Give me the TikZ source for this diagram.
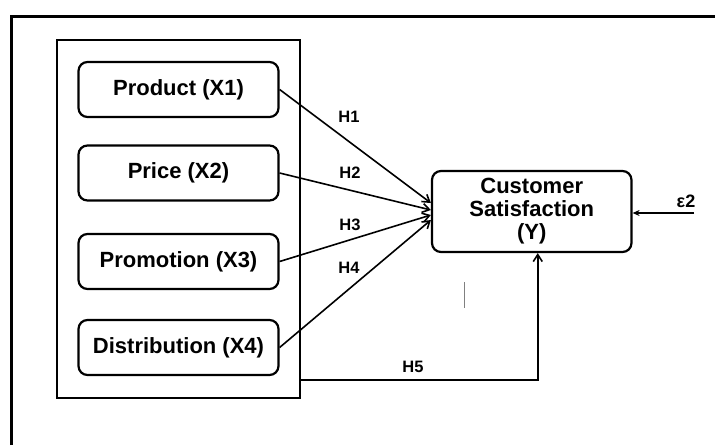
\documentclass[tikz,border=0pt]{standalone}
\usepackage{fontspec}
\setmainfont{Liberation Sans}
\usetikzlibrary{arrows.meta, positioning}

\tikzset{
  varbox/.style={draw, line width=2.2pt, rounded corners=9pt, minimum width=200pt,
    minimum height=55pt, font=\fontsize{22}{23}\selectfont\bfseries},
  hyp/.style={-{Straight Barb[length=7pt,width=9pt]}, line width=1.6pt},
  hlabel/.style={font=\fontsize{16.5}{18}\selectfont\bfseries}
}

\begin{document}
\begin{tikzpicture}[x=1pt, y=-1pt]
\useasboundingbox (0,0) rectangle (715,445);

% outer frame
\draw[line width=3pt] (11,445) -- (11,16) -- (715,16);

% group of independent variables
\node[draw, line width=2pt, minimum width=243pt, minimum height=358pt] (grp) at (178.5,219) {};

\node[varbox] (prod) at (178.5,89.5) {Product (X1)};
\node[varbox] (price) at (178.5,173) {Price (X2)};
\node[varbox] (promo) at (178.5,261.5) {Promotion (X3)};
\node[varbox] (dist) at (178.5,347.5) {Distribution (X4)};

\node[varbox, minimum width=199.5pt, minimum height=81pt, align=center] (cs) at (531.75,211.5)
  {Customer\\Satisfaction\\(Y)};

% hypotheses
\draw[hyp] (prod.east) -- ([yshift=8.5pt]cs.west);
\draw[hyp] (price.east) -- ([yshift=1.5pt]cs.west);
\draw[hyp] (promo.east) -- ([yshift=-3.5pt]cs.west);
\draw[hyp] (dist.east) -- ([yshift=-8.5pt]cs.west);
\draw[hyp] ([yshift=19pt]grp.south east) -| ([xshift=6pt]cs.south);

\node[hlabel] (h1) at (349,117) {H1};
\node[hlabel] (h2) at (350,173) {H2};
\node[hlabel] (h3) at (350,225) {H3};
\node[hlabel] (h4) at (349,268) {H4};
\node[hlabel] (h5) at (413,367) {H5};

% error term
\coordinate (err) at (694,213);
\node[hlabel, font=\fontsize{18}{20}\selectfont\bfseries] (eps) at (686,201) {ε2};
\draw[-{Stealth[length=7pt,width=6pt]}, line width=2.2pt] (err) -- (cs.east |- err);

% stray mark
\draw[gray, line width=0.8pt] (464,282) -- (464,308);
\end{tikzpicture}
\end{document}
